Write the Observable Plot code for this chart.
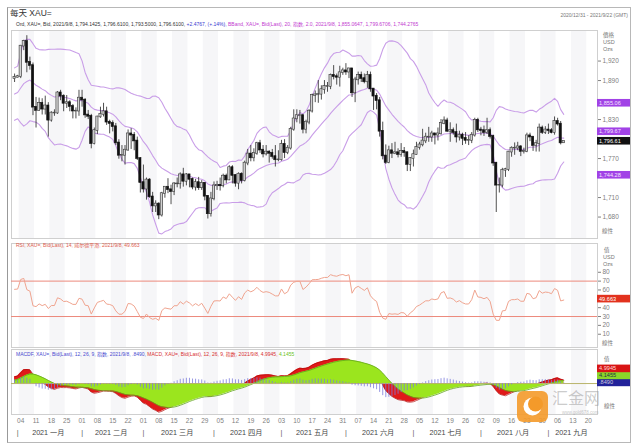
<!DOCTYPE html>
<html><head><meta charset="utf-8">
<script src="https://cdn.jsdelivr.net/npm/d3@7"></script>
<script src="https://cdn.jsdelivr.net/npm/@observablehq/plot@0.6"></script>
<style>
body{margin:0;background:#fff;font-family:"Liberation Sans","Noto Sans CJK SC",sans-serif;}
#root{position:relative;width:637px;height:446px;overflow:hidden;background:#fff;}
.abs{position:absolute;white-space:nowrap;line-height:1;}
.panel{position:absolute;left:0;}
</style></head><body><div id="root"></div>
<script>
// ---------- DATA (daily XAU= bid, 2020/12/31 .. 2021/9/8) ----------
const opens = [1893,1895,1896,1943,1950,1918,1913,1849,1844,1855,1846,1851,1829,1840,1840,1871,1866,1855,1856,1850,1843,1843,
1863,1860,1837,1835,1793,1813,1834,1838,1842,1826,1824,1819,1794,1775,1775,1783,1808,1806,1797,1770,
1733,1723,1737,1711,1697,1700,1683,1716,1726,1722,1719,1731,1731,1745,1735,1745,1738,1726,1733,1725,1732,1712,1685,
1708,1728,1729,1728,1743,1737,1756,1744,1732,1746,1736,1763,1777,1771,1778,1793,1783,1777,1780,1778,1773,1768,
1768,1792,1779,1786,1815,1831,1836,1836,1815,1826,1843,1867,1868,1869,1876,1881,1881,1898,1896,1895,1902,
1905,1903,1908,1871,1891,1898,1893,1888,1898,1877,1866,1859,1812,1774,1764,1782,1778,1779,1776,1781,1779,1761,
1770,1776,1787,1791,1797,1803,1803,1808,1806,1808,1824,1828,1812,1813,1810,1803,1806,1801,1798,1798,1806,1829,
1814,1813,1810,1813,1804,1763,1729,1729,1752,1753,1780,1786,1786,1788,1781,1781,1805,1803,1790,1793,1817,1810,
1814,1813,1810,1827,1823,1794.14];
const highs = [1900,1898,1944,1952,1959,1926,1917,1864,1863,1862,1866,1856,1842,1845,1873,1875,1868,1867,1859,1853,1848,1875,
1875,1862,1844,1838,1817,1835,1849,1855,1849,1829,1828,1824,1799,1790,1790,1814,1816,1810,1803,1771,
1760,1740,1739,1718,1705,1702,1718,1727,1739,1729,1733,1740,1748,1755,1747,1745,1740,1738,1741,1736,1733,1713,1718,
1734,1735,1740,1746,1746,1759,1759,1745,1748,1748,1766,1784,1790,1785,1795,1798,1790,1790,1782,1784,1790,1782,
1798,1799,1790,1818,1845,1845,1844,1838,1829,1845,1869,1874,1890,1882,1890,1887,1900,1913,1900,1912,1909,
1916,1909,1909,1895,1903,1903,1900,1904,1903,1877,1870,1864,1826,1791,1789,1793,1795,1785,1793,1787,1780,1771,
1783,1795,1795,1815,1809,1818,1812,1809,1817,1830,1834,1832,1825,1817,1823,1812,1809,1810,1805,1810,1832,1832,
1818,1820,1832,1817,1806,1764,1740,1755,1755,1781,1788,1794,1795,1790,1786,1809,1809,1804,1798,1823,1820,1819,
1823,1816,1834,1832,1827,1796.61];
const lows = [1887,1894,1893,1936,1902,1906,1836,1817,1843,1837,1837,1803,1826,1835,1838,1859,1842,1847,1842,1831,1831,1835,
1849,1832,1830,1785,1791,1807,1832,1834,1821,1808,1811,1790,1769,1765,1760,1781,1784,1782,1767,1717,
1717,1706,1709,1687,1687,1676,1680,1709,1716,1699,1713,1725,1723,1726,1728,1725,1722,1720,1721,1721,1705,1677,1680,
1705,1721,1720,1725,1731,1736,1731,1726,1722,1731,1734,1759,1765,1765,1775,1778,1771,1774,1763,1769,1757,1765,
1766,1770,1776,1783,1812,1825,1823,1808,1808,1822,1840,1856,1855,1860,1869,1872,1876,1891,1883,1880,1898,
1898,1893,1864,1856,1883,1887,1885,1878,1872,1844,1845,1803,1768,1761,1762,1770,1776,1771,1772,1772,1750,1750,
1757,1775,1783,1788,1793,1795,1795,1791,1797,1806,1822,1810,1795,1806,1794,1797,1790,1792,1790,1793,1803,1810,
1805,1804,1807,1800,1758,1687,1717,1725,1741,1750,1772,1775,1782,1773,1777,1779,1796,1781,1780,1780,1807,1807,
1807,1808,1806,1820,1791,1793.5];
const closes = [1895,1896,1943,1950,1918,1913,1849,1844,1855,1846,1851,1829,1840,1840,1871,1866,1855,1856,1850,1843,1843,1863,
1860,1837,1835,1793,1813,1834,1838,1842,1826,1824,1819,1794,1775,1775,1783,1808,1806,1797,1770,1733,
1723,1737,1711,1697,1700,1683,1716,1726,1722,1719,1731,1731,1745,1735,1745,1738,1726,1733,1725,1732,1712,1685,1708,
1728,1729,1728,1743,1737,1756,1744,1732,1746,1736,1763,1777,1771,1778,1793,1783,1777,1780,1778,1773,1768,1768,
1792,1779,1786,1815,1831,1836,1836,1815,1826,1843,1867,1868,1869,1876,1881,1881,1898,1896,1895,1902,1905,
1903,1908,1871,1891,1898,1893,1888,1898,1877,1866,1859,1812,1774,1764,1782,1778,1779,1776,1781,1779,1761,1770,
1776,1787,1791,1797,1803,1803,1808,1806,1808,1824,1828,1812,1813,1810,1803,1806,1801,1798,1798,1806,1829,1814,
1813,1810,1813,1804,1763,1729,1729,1752,1753,1780,1786,1786,1788,1781,1781,1805,1803,1790,1793,1817,1810,1814,
1813,1810,1827,1823,1794,1796.61];
// closes before the first bar (Oct-Dec 2020), used only to warm up the indicators
const warmupCloses = [1906,1900,1913,1877,1887,1893,1930,1922,1891,1903,1908,1899,1905,1907,1924,1904,1902,1902,1907,1877,1868,1879,
1895,1908,1904,1949,1951,1862,1877,1866,1873,1889,1887,1880,1871,1866,1871,1837,1806,1810,1811,1788,1776,
1815,1831,1841,1839,1863,1871,1839,1837,1840,1827,1855,1863,1886,1882,1872,1864,1871,1876,1876,1876,1877,1894];
const priceTicks = [1680,1710,1770,1830,1890,1920];   // 1,740 / 1,800 / 1,860 are hidden by the value boxes
const rsiTicks = [10,20,30,40,60,70,80];               // 50 hidden by the RSI value box
const rsiLevels = [30,70];
const monthNames = ["一月","二月","三月","四月","五月","六月","七月","八月","九月"];
const bandLabels = [1855.06, 1799.67, 1744.28];   // upper, middle, lower (as printed)
const lastClose = 1796.61;
const rsiLast = 49.663;
const macdLast = [4.9945, 4.1455, 0.8490];          // MACD, signal, MACDF

// ---------- calendar (weekdays) ----------
const cal = [];
for (let t = Date.UTC(2020,11,31); t <= Date.UTC(2021,8,22); t += 864e5) {
  const d = new Date(t), w = d.getUTCDay();
  if (w > 0 && w < 6) cal.push(d);
}
const calIdx = cal.map((d,i)=>({d,i}));
const mondays = calIdx.filter(o=>o.d.getUTCDay()===1);
const months = d3.groups(calIdx.filter(o=>o.d.getUTCFullYear()===2021), o=>o.d.getUTCMonth())
  .map(([m,arr])=>({m, start:arr[0].i, center:(arr[0].i+arr[arr.length-1].i)/2, label:"2021 "+monthNames[m]}));
const xDomain = [-1, cal.length];
const stripes = mondays.filter((o,k)=>k%2===0).map(o=>({x1:o.i-0.5, x2:Math.min(o.i+4.5, xDomain[1])}));

// ---------- indicators ----------
function ema(a,n){const k=2/(n+1);const out=[a[0]];for(let i=1;i<a.length;i++)out.push(a[i]*k+out[i-1]*(1-k));return out;}
const all = warmupCloses.concat(closes), off = warmupCloses.length;
const mid = ema(all,20);
const bb = closes.map((c,i)=>{const t=i+off;let s=0;for(let j=t-19;j<=t;j++)s+=(all[j]-mid[t])**2;const sd=Math.sqrt(s/19);return {i,mid:mid[t],up:mid[t]+2*sd,lo:mid[t]-2*sd};});
let ag=0, al=0; const rsiAll=[];
for(let t=1;t<all.length;t++){const ch=all[t]-all[t-1];const g=Math.max(ch,0),l=Math.max(-ch,0);
  if(t<=14){ag+=g/14;al+=l/14;}else{ag=(ag*13+g)/14;al=(al*13+l)/14;}
  rsiAll[t]= t>=14 ? 100-100/(1+ag/al) : null;}
const rsi = closes.map((c,i)=>({i, v:rsiAll[i+off]}));
const e12=ema(all,12), e26=ema(all,26);
const macdAll=e12.map((v,i)=>v-e26[i]); const sigAll=ema(macdAll,9);
const macd = closes.map((c,i)=>({i, m:macdAll[i+off], s:sigAll[i+off], h:macdAll[i+off]-sigAll[i+off]}));
const candles = closes.map((c,i)=>({i,o:opens[i],h:highs[i],l:lows[i],c,up:c>=opens[i]}));

// ---------- layout ----------
const W=637, ML=11, MR=40;
const font = "Liberation Sans, Noto Sans CJK SC, sans-serif";
const stripeFill = "#f6f6f8";
const root = document.getElementById("root");
function place(node, top){const d=document.createElement("div");d.className="panel";d.style.top=top+"px";d.appendChild(node);root.appendChild(d);return node;}
function html(txt, css){const d=document.createElement("div");d.className="abs";d.style.cssText+=css;d.innerHTML=txt;root.appendChild(d);return d;}
function ypix(plot,v){const s=plot.scale("y");return s.range[0]+(v-s.domain[0])/(s.domain[1]-s.domain[0])*(s.range[1]-s.range[0]);}
function box(svg,y,fill,txt,col){const g=d3.select(svg).append("g");
  g.append("rect").attr("x",597).attr("y",y-3.8).attr("width",33).attr("height",7.6).attr("fill",fill);
  g.append("text").attr("x",599).attr("y",y+2).attr("font-size",5.6).attr("text-anchor","start").attr("fill",col).attr("font-family",font).text(txt);}
const baseStyle = {background:"transparent", fontFamily:font, fontSize:"6.5px", color:"#808080", overflow:"visible"};

// price panel
const pDom=[1647,1967];
const price = place(Plot.plot({
  width:W, height:212, marginLeft:ML, marginRight:MR, marginTop:2, marginBottom:2, style:baseStyle,
  x:{domain:xDomain, axis:null},
  y:{domain:pDom, axis:"right", ticks:priceTicks, tickFormat:d3.format(","), tickSize:3, tickPadding:2, label:null},
  marks:[
    Plot.rect(stripes,{x1:"x1",x2:"x2",y1:pDom[0],y2:pDom[1],fill:stripeFill}),
    Plot.frame({stroke:"#cfcfcf"}),
    Plot.line(bb,{x:"i",y:"up",stroke:"#c99ee8",strokeWidth:1.1}),
    Plot.line(bb,{x:"i",y:"mid",stroke:"#c99ee8",strokeWidth:1.1}),
    Plot.line(bb,{x:"i",y:"lo",stroke:"#c99ee8",strokeWidth:1.1}),
    Plot.ruleX(candles,{x:"i",y1:"l",y2:"h",stroke:"#222",strokeWidth:0.8}),
    Plot.rect(candles.filter(d=>d.up),{x1:d=>d.i-0.36,x2:d=>d.i+0.36,y1:"o",y2:"c",fill:"#d2d2d2",stroke:"#333",strokeWidth:0.6,insetTop:-0.4,insetBottom:-0.4}),
    Plot.rect(candles.filter(d=>!d.up),{x1:d=>d.i-0.36,x2:d=>d.i+0.36,y1:"o",y2:"c",fill:"#111",stroke:"#111",strokeWidth:0.6,insetTop:-0.4,insetBottom:-0.4})
  ]}), 28);
{
  const yu=ypix(price,bandLabels[0]), yc=ypix(price,lastClose), yl=ypix(price,bandLabels[2]);
  box(price,yu,"#a142e6",d3.format(",.2f")(bandLabels[0]),"#f4e6ff");
  box(price,yc-9.5,"#a142e6",d3.format(",.2f")(bandLabels[1]),"#f4e6ff");
  box(price,yc,"#111","1,796.61","#fff");
  box(price,yl,"#a142e6",d3.format(",.2f")(bandLabels[2]),"#f4e6ff");
}

// RSI panel
const rDom=[-5,112.5];
const rsiPlot = place(Plot.plot({
  width:W, height:106, marginLeft:ML, marginRight:MR, marginTop:2, marginBottom:0, style:baseStyle,
  x:{domain:xDomain, axis:null},
  y:{domain:rDom, axis:"right", ticks:rsiTicks, tickSize:3, tickPadding:2, label:null},
  marks:[
    Plot.rect(stripes,{x1:"x1",x2:"x2",y1:rDom[0],y2:rDom[1],fill:stripeFill}),
    Plot.frame({stroke:"#cfcfcf"}),
    Plot.ruleY(rsiLevels,{stroke:"#ec8a7c",strokeWidth:1}),
    Plot.line(rsi,{x:"i",y:"v",stroke:"#f0a48f",strokeWidth:1})
  ]}), 241);
box(rsiPlot, ypix(rsiPlot,rsiLast), "#e2321e", "49.663", "#fff");

// MACD panel
const mDom=[-40,44];
const macdPlot = place(Plot.plot({
  width:W, height:99, marginLeft:ML, marginRight:MR, marginTop:2, marginBottom:32, style:baseStyle,
  x:{domain:xDomain, ticks:mondays.map(o=>o.i), tickFormat:i=>String(cal[i].getUTCDate()).padStart(2,"0"), tickSize:0, tickPadding:4, label:null},
  y:{domain:mDom, axis:null, clamp:true},
  marks:[
    Plot.rect(stripes,{x1:"x1",x2:"x2",y1:mDom[0],y2:mDom[1],fill:stripeFill}),
    Plot.frame({stroke:"#cfcfcf"}),
    Plot.areaY(macd,{x:"i",y1:0,y2:"m",fill:"#e01a1a"}),
    Plot.line(macd,{x:"i",y:"m",stroke:"#b00d0d",strokeWidth:0.7}),
    Plot.areaY(macd,{x:"i",y1:0,y2:"s",fill:"#9be51e"}),
    Plot.line(macd,{x:"i",y:"s",stroke:"#62a51c",strokeWidth:0.8}),
    Plot.ruleY([0],{stroke:"#b9b46a",strokeWidth:1}),
    Plot.ruleX(macd,{x:"i",y1:0,y2:"h",stroke:"#7c7cdc",strokeWidth:0.8}),
    Plot.text(months,{x:"center",text:"label",frameAnchor:"bottom",dy:20,fontSize:7.2,fill:"#444"}),
    Plot.text(months,{x:"start",text:()=>"|",frameAnchor:"bottom",dy:20,fontSize:7.2,fill:"#555"})
  ]}), 347);
{
  const yb=ypix(macdPlot,macdLast[2]);
  box(macdPlot,yb,"#22229a",".8490","#ccd");
  box(macdPlot,yb-7,"#8ad62a","4.1455","#234");
  box(macdPlot,yb-14,"#d81414","4.9945","#fdd");
}

// ---------- texts ----------
html("", "left:7px;top:7px;width:622px;height:434px;border:1px solid #b8b8b8;border-left-color:#999;");
html("每天 XAU=", "left:10px;top:9px;font-size:8.5px;color:#333;");
html("2020/12/31 - 2021/9/22 (GMT)", "right:9px;top:13px;font-size:5px;color:#777;");
html('<span style="color:#333">Ord, XAU=, Bid, 2021/9/8, 1,794.1425, 1,796.6100, 1,793.5000, 1,796.6100, </span><span style="color:#3a3ad0">+2.4767, (+.14%), </span><span style="color:#c23ad0">BBand, XAU=, Bid(Last), 20, 指数, 2.0, 2021/9/8, 1,855.0647, 1,799.6706, 1,744.2765</span>',
  "left:16px;top:22px;font-size:5px;");
html("RSI, XAU=, Bid(Last), 14, 威尔德平滑, 2021/9/8, 49.663", "left:16px;top:243px;font-size:5px;color:#e0604e;");
html('<span style="color:#4a4ad0">MACDF, XAU=, Bid(Last), 12, 26, 9, 指数, 2021/9/8, .8490, </span><span style="color:#d83030">MACD, XAU=, Bid(Last), 12, 26, 9, 指数, 2021/9/8, 4.9945, </span><span style="color:#6cc21c">4.1455</span>',
  "left:16px;top:352px;font-size:5px;");
const hdr="font-size:5.5px;color:#777;";
html("價格","left:603px;top:33px;"+hdr); html("USD","left:603px;top:40px;"+hdr); html("Ozs","left:603px;top:47px;"+hdr);
html("線性","left:602px;top:229px;"+hdr);
html("值","left:604px;top:248px;"+hdr); html("USD","left:603px;top:255px;"+hdr); html("Ozs","left:603px;top:262px;"+hdr);
html("線性","left:602px;top:341px;"+hdr);
html("值","left:604px;top:357px;"+hdr);
html("線性","left:604px;top:404px;"+hdr);
// watermark
html('<svg width="31" height="31"><rect x="0" y="0" width="31" height="31" rx="6" fill="#f49a2a" opacity="0.9"/><circle cx="15.5" cy="15.5" r="9" fill="#fff"/><circle cx="18.5" cy="13" r="7.5" fill="#f49a2a"/></svg>',
  "left:517px;top:391px;");
html("汇金网","left:552px;top:389px;font-size:16px;color:rgba(140,140,140,0.45);font-family:'Noto Sans CJK SC';");
html("www.gold678.com","left:562px;top:410.5px;font-size:4.5px;color:rgba(140,140,140,0.5);");
</script></body></html>
